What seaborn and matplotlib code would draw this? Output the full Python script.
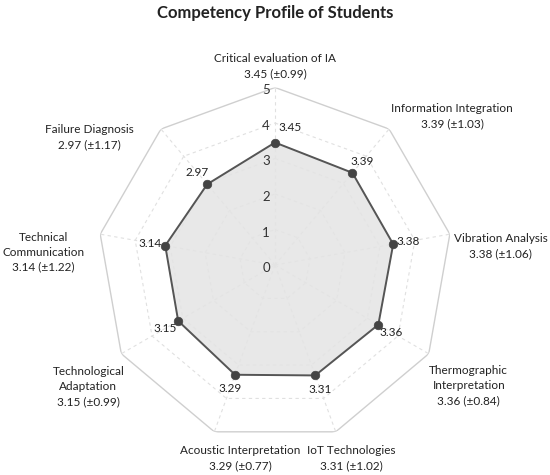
import numpy as np
import matplotlib
matplotlib.use("Agg")
import matplotlib.pyplot as plt
import seaborn as sns

# data
competencias = ["Critical evaluation of IA", "Information Integration", "Vibration Analysis",
                "Thermographic\nInterpretation", "IoT Technologies", "Acoustic Interpretation",
                "Technological\nAdaptation", "Technical\nCommunication", "Failure Diagnosis"]
media = [3.45, 3.39, 3.38, 3.36, 3.31, 3.29, 3.15, 3.14, 2.97]
desvio = [0.99, 1.03, 1.06, 0.84, 1.02, 0.77, 0.99, 1.22, 1.17]
escala = [0, 1, 2, 3, 4, 5]

sns.set_style("white")
plt.rcParams["font.family"] = ["Lato", "DejaVu Sans"]

n = len(competencias)
angulos = np.linspace(0, 2 * np.pi, n, endpoint=False)
ang_fechado = np.append(angulos, 2 * np.pi)
val_fechado = np.append(media, media[0])

fig = plt.figure(figsize=(5.5, 4.75), dpi=100)
ax = fig.add_axes([0.1773, 0.0684, 0.6455, 0.7474], projection="polar")
ax.set_theta_offset(np.pi / 2)
ax.set_theta_direction(-1)
ax.set_ylim(0, max(escala))
ax.grid(False)
ax.spines["polar"].set_visible(False)
ax.set_xticks([])
ax.set_yticks([])

# grade poligonal
for r in escala[1:]:
    if r == max(escala):
        ax.plot(ang_fechado, [r] * (n + 1), color="#cfcfcf", lw=1.0, zorder=1)
    else:
        ax.plot(ang_fechado, [r] * (n + 1), color="#e0e0e0", lw=0.8, ls=(0, (3, 3)), zorder=1)
for a in angulos:
    ax.plot([a, a], [0, max(escala)], color="#e0e0e0", lw=0.8, ls=(0, (3, 3)), zorder=1)

# rotulos da escala
for r in escala:
    ax.annotate(str(r), xy=(0, r), xytext=(-9, -3), textcoords="offset pixels",
                ha="center", va="center", fontsize=9.5, color="#333333")

# perfil
ax.fill(ang_fechado, val_fechado, color="#e4e4e4", alpha=0.85, zorder=2)
sns.lineplot(x=ang_fechado, y=val_fechado, ax=ax, color="#555555", lw=1.4, sort=False,
             estimator=None, zorder=3)
sns.scatterplot(x=angulos, y=media, ax=ax, color="#444444", s=38, edgecolor="#444444",
                zorder=4)

# valores nos pontos
for a, v in zip(angulos, media):
    th = np.pi / 2 - a
    dx = 15 * np.cos(th) + (15 if abs(np.cos(th)) < 0.01 else 0)
    dy = 15 * np.sin(th)
    ax.annotate(f"{v:.2f}", xy=(a, v), xytext=(dx, dy), textcoords="offset pixels",
                ha="center", va="center", fontsize=8.5, color="#222222", zorder=5)

# rotulos das competencias
desloc = [(0, 21), (63, 13), (51, -12), (40, -32), (16, -26),
          (26, -26), (-33, -33), (-57, -18), (-72, -8)]
for a, nome, m, s, (dx, dy) in zip(angulos, competencias, media, desvio, desloc):
    ax.annotate(f"{nome}\n{m:.2f} (±{s:.2f})", xy=(a, max(escala)), xytext=(dx, dy),
                textcoords="offset pixels", ha="center", va="center",
                multialignment="center", fontsize=8.5, color="#222222",
                linespacing=1.45, annotation_clip=False)

fig.text(0.5, 1 - 13 / 475, "Competency Profile of Students", ha="center", va="center",
         fontsize=12, fontweight="bold", color="#222222")

fig.savefig("out.png", dpi=100)
